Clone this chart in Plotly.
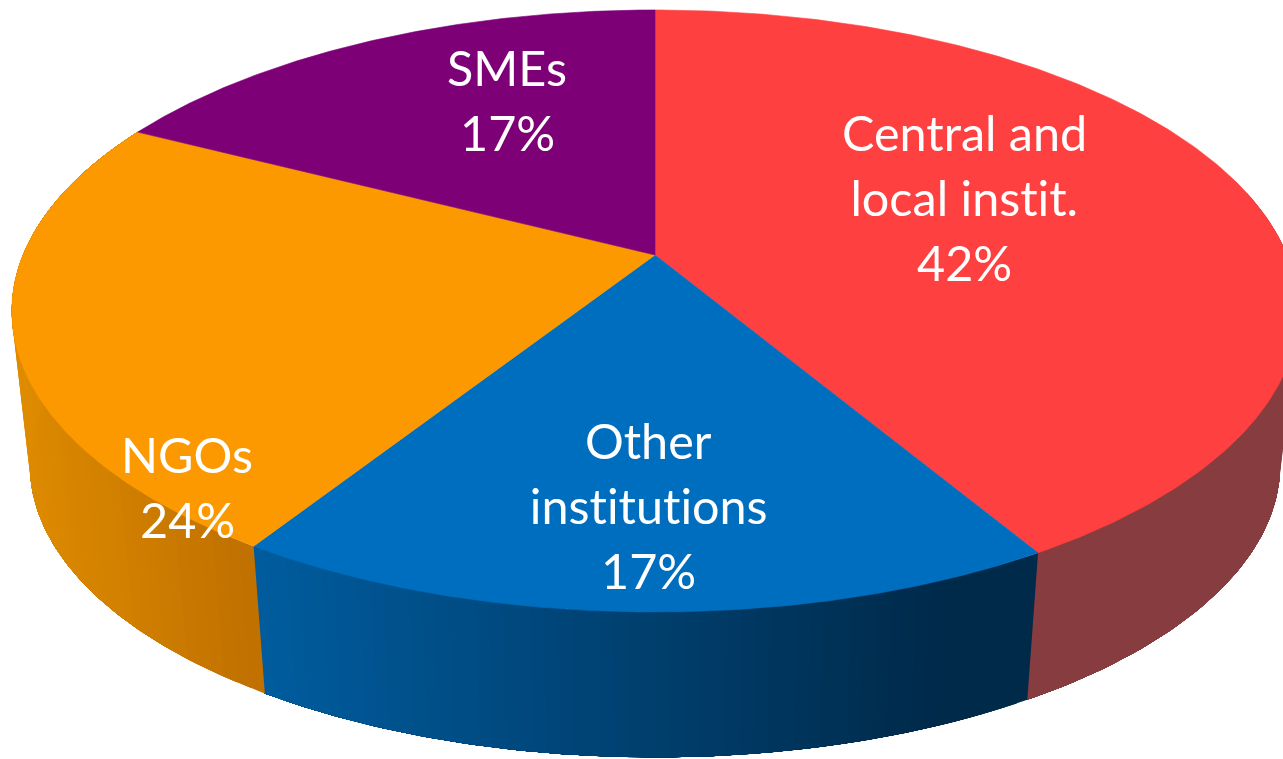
import numpy as np
import plotly.graph_objects as go

# ---- data (clockwise from 12 o'clock) ----
names = ["Central and<br>local instit.", "Other<br>institutions", "NGOs", "SMEs"]
shares = [41.5, 17.49, 23.6, 17.41]
top_colors = ["#FF4040", "#006EBF", "#FC9800", "#7D0077"]
side_from = ["#873D3F", "#005C9E", "#DE8B00", "#7D0077"]
side_to = ["#873D3F", "#002A4A", "#BF7000", "#7D0077"]
label_x = [964, 648, 187, 507]
label_y = [132, 440, 454, 67]

# ---- projection of the disc ----
CX, CY = 655, 255
A, B, K = 632, 290.6, 0.186
SHRINK, VY = 0.972, 5803


def project(theta):
    X, Y = np.sin(theta), np.cos(theta)
    w = 1 + K * Y
    return CX + A * X / w, CY - B * Y / w


def lower(x, y):
    return CX + (x - CX) * SHRINK, VY + (y - VY) * SHRINK


def mix(c1, c2, t):
    a = [int(c1[i:i + 2], 16) for i in (1, 3, 5)]
    b = [int(c2[i:i + 2], 16) for i in (1, 3, 5)]
    return "rgb(%d,%d,%d)" % tuple(round(p + (q - p) * t) for p, q in zip(a, b))


edges = np.concatenate([[0], np.cumsum(shares)]) / sum(shares) * 2 * np.pi
fig = go.Figure()


def add_poly(x, y, color, lw=0.0):
    fig.add_trace(go.Scatter(
        x=x, y=y, mode="lines", fill="toself", fillcolor=color,
        line=dict(color=color, width=lw), hoverinfo="skip", showlegend=False,
    ))


# side wall: each strip runs on to the end of its slice and the next one paints over it
for i in range(len(shares)):
    t0, t1 = edges[i], edges[i + 1]
    x_ends = [project(t0)[0], project(t1)[0]]
    lo, hi = min(x_ends), max(x_ends)
    if i == 2:
        lo = 12
    n = 60
    ts = np.linspace(t0, t1, n + 1)
    for j in range(n):
        mid = (ts[j] + ts[j + 1]) / 2
        if np.cos(mid) > 0.25:
            continue
        arc = np.linspace(ts[j], t1, max(3, (n - j) * 3))
        px, py = project(arc)
        qx, qy = lower(px, py)
        x_mid = project(mid)[0]
        frac = (x_mid - lo) / (hi - lo) if hi > lo else 0
        if i == 1:
            frac = frac / 0.88
        add_poly(np.r_[px, qx[::-1], px[0]], np.r_[py, qy[::-1], py[0]],
                 mix(side_from[i], side_to[i], float(np.clip(frac, 0, 1))))

# top face
for i in range(len(shares)):
    arc = np.linspace(edges[i], edges[i + 1], 240)
    px, py = project(arc)
    add_poly(np.r_[CX, px, CX], np.r_[CY, py, CY], top_colors[i], lw=0.6)

# labels
LINE = 65
for name, share, x, y in zip(names, shares, label_x, label_y):
    lines = name.split("<br>") + [f"{round(share)}%"]
    for k, line in enumerate(lines):
        fig.add_annotation(
            x=x, y=y + k * LINE, text=line, showarrow=False, xanchor="center", yanchor="middle",
            font=dict(family="Lato, Carlito, Calibri, sans-serif", size=48.5, color="white"),
        )

fig.update_layout(
    width=1283, height=759, autosize=False,
    margin=dict(l=0, r=0, t=0, b=0),
    paper_bgcolor="white", plot_bgcolor="white", showlegend=False,
    xaxis=dict(range=[0, 1283], visible=False, fixedrange=True),
    yaxis=dict(range=[759, 0], visible=False, fixedrange=True),
)
fig.write_html(
    "out.html",
    post_script=(
        "document.body.style.margin='0';"
        "var s=document.createElement('style');"
        "s.textContent='text{font-variant-ligatures:none !important;font-feature-settings:\"liga\" 0,\"clig\" 0 !important;}';"
        "document.head.appendChild(s);"
    ),
    config={"displayModeBar": False},
)
